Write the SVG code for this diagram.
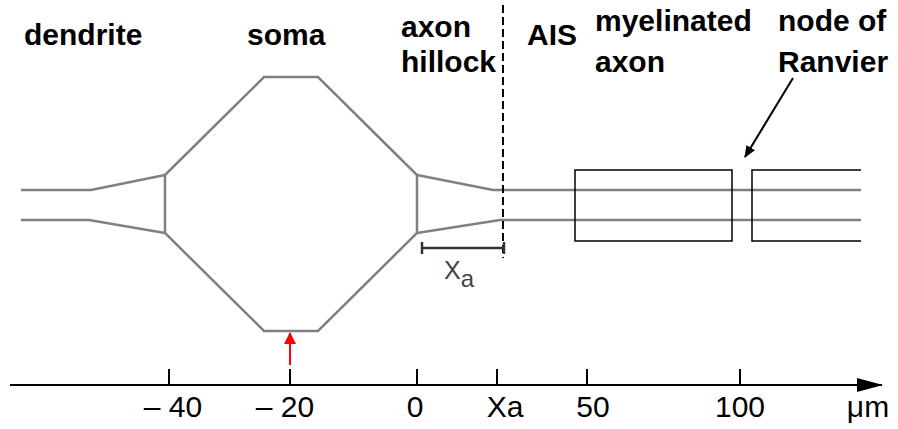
<svg xmlns="http://www.w3.org/2000/svg" width="898" height="429" viewBox="0 0 898 429">
  <style>
    .cell { fill: none; stroke: #808080; stroke-width: 2.5; stroke-linejoin: miter; }
    .box { fill: none; stroke: #000; stroke-width: 1.5; }
    .lbl { font-family: "Liberation Sans", Arial, sans-serif; font-weight: bold; font-size: 30px; fill: #000; }
    .num { font-family: "Liberation Sans", Arial, sans-serif; font-size: 30px; fill: #000; }
    .ax { stroke: #000; stroke-width: 2; fill: none; }
  </style>
  <defs>
    <marker id="blackHead" markerWidth="12" markerHeight="10" refX="11" refY="5" orient="auto" markerUnits="userSpaceOnUse">
      <path d="M0,0 L12,5 L0,10 Z" fill="#000"/>
    </marker>
    <marker id="axisHead" markerWidth="26" markerHeight="14" refX="25" refY="7" orient="auto" markerUnits="userSpaceOnUse">
      <path d="M0,0 L26,7 L0,14 Z" fill="#000"/>
    </marker>
    <marker id="redHead" markerWidth="12" markerHeight="12" refX="11" refY="6" orient="auto" markerUnits="userSpaceOnUse">
      <path d="M0,0 L12,6 L0,12 Z" fill="#f00"/>
    </marker>
  </defs>

  <!-- region labels -->
  <g id="label-dendrite"><text class="lbl" x="24" y="45">dendrite</text></g>
  <g id="label-soma"><text class="lbl" x="247" y="45">soma</text></g>
  <g id="label-hillock">
    <text class="lbl" x="401" y="37">axon</text>
    <text class="lbl" x="401" y="72">hillock</text>
  </g>
  <g id="label-ais"><text class="lbl" x="527" y="45">AIS</text></g>
  <g id="label-myelin">
    <text class="lbl" x="595" y="31">myelinated</text>
    <text class="lbl" x="595" y="72">axon</text>
  </g>
  <g id="label-node">
    <text class="lbl" x="778" y="31">node of</text>
    <text class="lbl" x="778" y="72">Ranvier</text>
  </g>

  <!-- dendrite -->
  <g id="dendrite">
    <polyline class="cell" points="21,190 91,190 165,175"/>
    <polyline class="cell" points="21,220 89,220 165,233"/>
  </g>

  <!-- soma -->
  <g id="soma">
    <polygon class="cell" points="165,175 264,77 318,77 417,175 417,233 318,331 264,331 165,233"/>
  </g>

  <!-- axon hillock and axon -->
  <g id="axon">
    <polyline class="cell" points="417,175 493,190 861,190"/>
    <polyline class="cell" points="417,233 500,220 861,220"/>
  </g>

  <!-- myelin sheaths -->
  <g id="myelin-1"><rect class="box" x="575" y="170" width="157" height="71"/></g>
  <g id="myelin-2"><polyline class="box" points="861,170 752,170 752,241 861,241"/></g>

  <!-- connectors -->
  <g id="connectors">
    <line x1="503" y1="5" x2="503" y2="258" stroke="#000" stroke-width="2" stroke-dasharray="8,4"/>
    <line x1="793" y1="78" x2="745" y2="157" stroke="#000" stroke-width="2" marker-end="url(#blackHead)"/>
    <line x1="290" y1="365" x2="290" y2="333" stroke="#f00" stroke-width="2" marker-end="url(#redHead)"/>
    <!-- length of initial segment -->
    <g stroke="#333" stroke-width="2.5">
      <line x1="422" y1="248" x2="504" y2="248"/>
      <line x1="422" y1="242" x2="422" y2="254"/>
      <line x1="504" y1="242" x2="504" y2="254"/>
    </g>
  </g>
  <g id="label-xa">
    <text font-family="'Liberation Sans', Arial, sans-serif" fill="#444" x="444" y="279" font-size="25">X<tspan font-size="24" dy="8">a</tspan></text>
  </g>

  <!-- position axis -->
  <g id="axis">
    <line class="ax" x1="10" y1="385" x2="882" y2="385" marker-end="url(#axisHead)"/>
    <g class="ax">
      <line x1="169" y1="369" x2="169" y2="385"/>
      <line x1="290" y1="369" x2="290" y2="385"/>
      <line x1="417" y1="369" x2="417" y2="385"/>
      <line x1="497" y1="369" x2="497" y2="385"/>
      <line x1="587" y1="369" x2="587" y2="385"/>
      <line x1="740" y1="369" x2="740" y2="385"/>
    </g>
    <text class="num" x="173" y="417" text-anchor="middle">– 40</text>
    <text class="num" x="285" y="417" text-anchor="middle">– 20</text>
    <text class="num" x="415" y="417" text-anchor="middle">0</text>
    <text class="num" x="505" y="417" text-anchor="middle">Xa</text>
    <text class="num" x="593" y="417" text-anchor="middle">50</text>
    <text class="num" x="740" y="417" text-anchor="middle">100</text>
    <text class="num" x="868" y="417" text-anchor="middle">μm</text>
  </g>
</svg>
